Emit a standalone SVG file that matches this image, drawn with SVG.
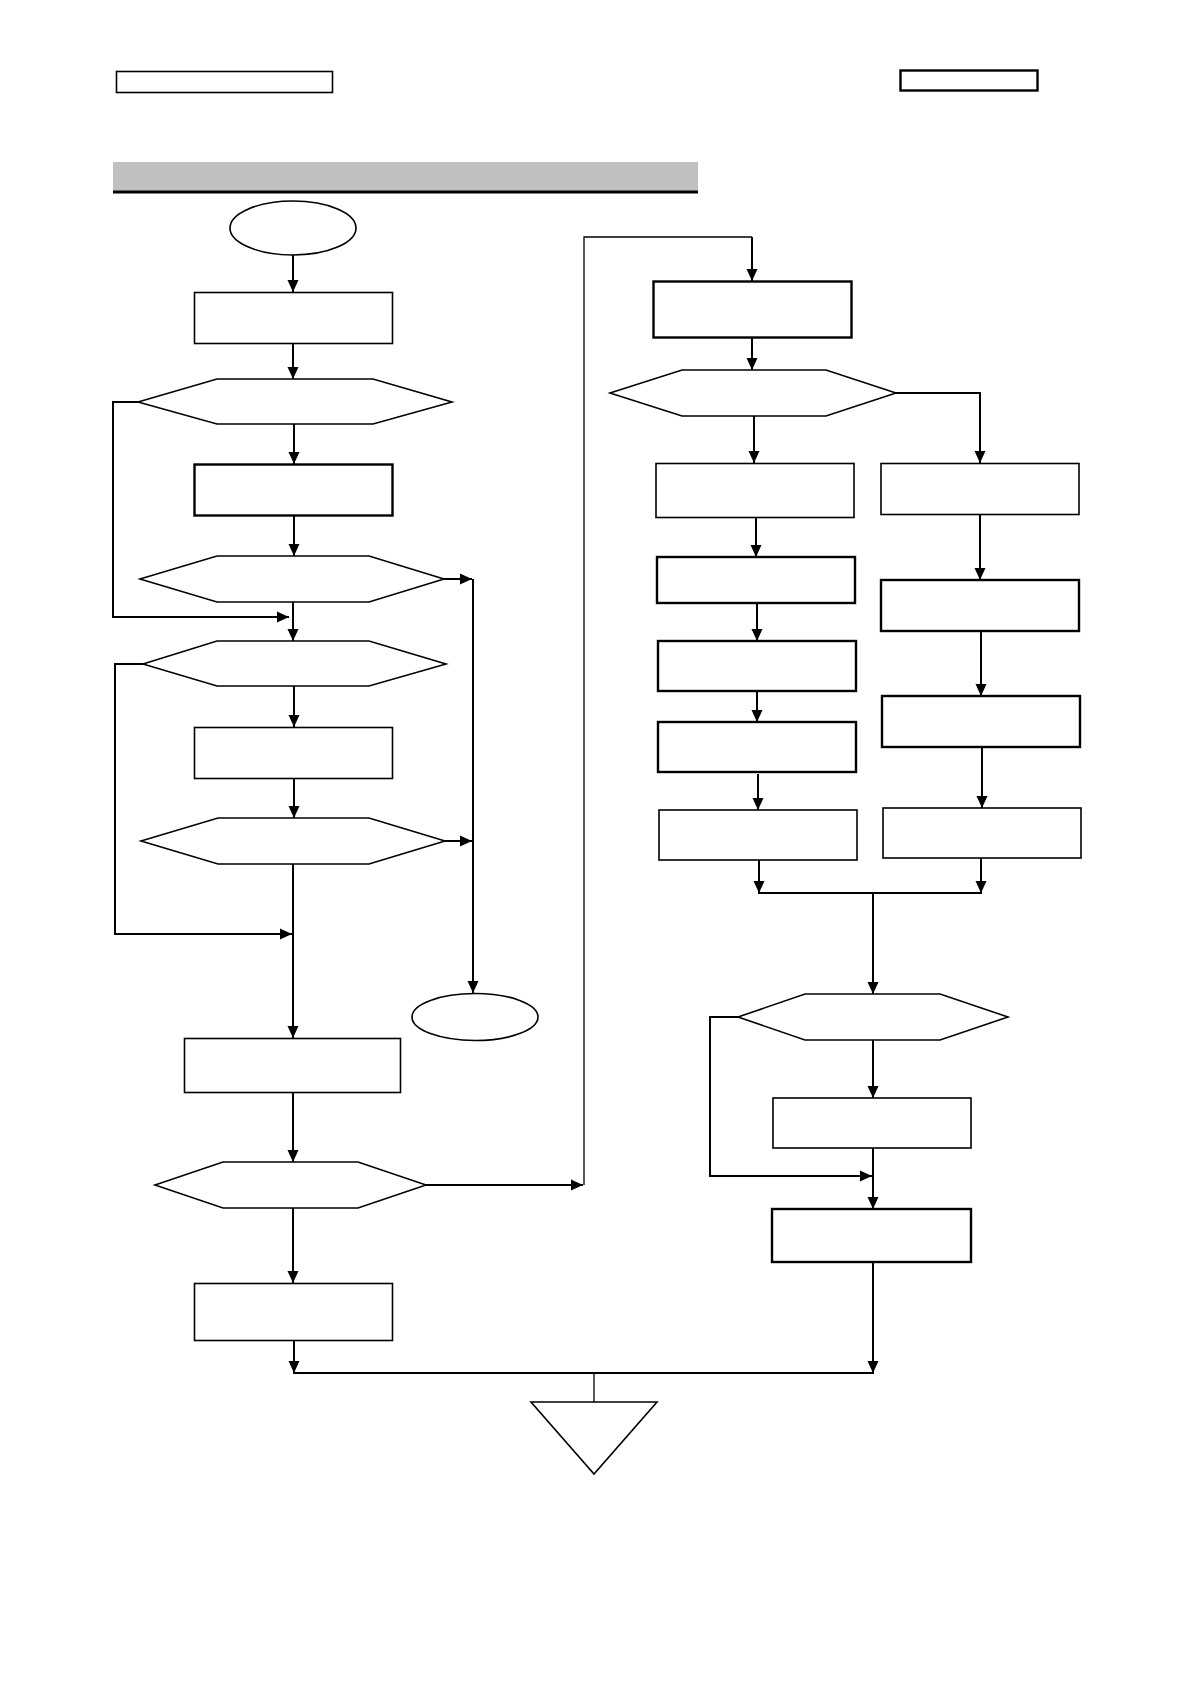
<svg xmlns="http://www.w3.org/2000/svg" width="1191" height="1684" viewBox="0 0 1191 1684">
<style>
.n{fill:#fff;stroke:#000;stroke-width:1.6}
.t{fill:#fff;stroke:#000;stroke-width:2.4}
.c{fill:none;stroke:#000;stroke-width:2}
.th{fill:none;stroke:#000;stroke-width:1.3}
</style>
<defs>
<marker id="a" markerUnits="userSpaceOnUse" markerWidth="13" markerHeight="13" viewBox="0 0 13 13" refX="12" refY="6.5" orient="auto">
<path d="M0,1 L12,6.5 L0,12 Z" fill="#000"/>
</marker>
</defs>
<rect width="1191" height="1684" fill="#fff"/>
<g id="header">
<rect x="116.5" y="71.5" width="216" height="21" class="n"/>
<rect x="900.5" y="70.5" width="137" height="20" class="t"/>
<rect x="113" y="162" width="585" height="29" fill="#c0c0c0"/>
<line x1="113" y1="192" x2="698" y2="192" stroke="#000" stroke-width="3"/>
</g>
<g id="connectors">
<line x1="293" y1="255" x2="293" y2="292" class="c" marker-end="url(#a)"/>
<line x1="293" y1="343" x2="293" y2="379" class="c" marker-end="url(#a)"/>
<line x1="294" y1="424" x2="294" y2="464" class="c" marker-end="url(#a)"/>
<line x1="294" y1="516" x2="294" y2="556" class="c" marker-end="url(#a)"/>
<polyline points="138,402 113,402 113,617 289,617" class="c" marker-end="url(#a)"/>
<line x1="293" y1="602" x2="293" y2="641" class="c" marker-end="url(#a)"/>
<line x1="444" y1="579" x2="472" y2="579" class="c" marker-end="url(#a)"/>
<line x1="473" y1="579" x2="473" y2="993" class="c" marker-end="url(#a)"/>
<line x1="294" y1="686" x2="294" y2="727" class="c" marker-end="url(#a)"/>
<polyline points="143,664 115,664 115,934 292,934" class="c" marker-end="url(#a)"/>
<line x1="294" y1="778" x2="294" y2="818" class="c" marker-end="url(#a)"/>
<line x1="445" y1="841" x2="472" y2="841" class="c" marker-end="url(#a)"/>
<line x1="293" y1="864" x2="293" y2="1038" class="c" marker-end="url(#a)"/>
<line x1="293" y1="1092" x2="293" y2="1162" class="c" marker-end="url(#a)"/>
<line x1="426" y1="1185" x2="583" y2="1185" class="c" marker-end="url(#a)"/>
<polyline points="584,1185 584,237 752,237" class="th"/>
<line x1="752" y1="237" x2="752" y2="281" class="c" marker-end="url(#a)"/>
<line x1="293" y1="1208" x2="293" y2="1283" class="c" marker-end="url(#a)"/>
<line x1="294" y1="1340" x2="294" y2="1373" class="c" marker-end="url(#a)"/>
<line x1="293" y1="1373" x2="874" y2="1373" class="c"/>
<line x1="873" y1="1262" x2="873" y2="1373" class="c" marker-end="url(#a)"/>
<line x1="594" y1="1373" x2="594" y2="1402" class="th"/>
<line x1="752" y1="338" x2="752" y2="370" class="c" marker-end="url(#a)"/>
<line x1="754" y1="416" x2="754" y2="463" class="c" marker-end="url(#a)"/>
<polyline points="896,393 980,393 980,463" class="c" marker-end="url(#a)"/>
<line x1="756" y1="517" x2="756" y2="557" class="c" marker-end="url(#a)"/>
<line x1="757" y1="603" x2="757" y2="641" class="c" marker-end="url(#a)"/>
<line x1="757" y1="691" x2="757" y2="722" class="c" marker-end="url(#a)"/>
<line x1="758" y1="774" x2="758" y2="810" class="c" marker-end="url(#a)"/>
<line x1="759" y1="860" x2="759" y2="893" class="c" marker-end="url(#a)"/>
<line x1="980" y1="514" x2="980" y2="580" class="c" marker-end="url(#a)"/>
<line x1="981" y1="631" x2="981" y2="696" class="c" marker-end="url(#a)"/>
<line x1="982" y1="747" x2="982" y2="808" class="c" marker-end="url(#a)"/>
<line x1="981" y1="858" x2="981" y2="893" class="c" marker-end="url(#a)"/>
<line x1="758" y1="893" x2="982" y2="893" class="c"/>
<line x1="873" y1="893" x2="873" y2="994" class="c" marker-end="url(#a)"/>
<polyline points="738,1017 710,1017 710,1176 872,1176" class="c" marker-end="url(#a)"/>
<line x1="873" y1="1040" x2="873" y2="1098" class="c" marker-end="url(#a)"/>
<line x1="873" y1="1148" x2="873" y2="1209" class="c" marker-end="url(#a)"/>
</g>
<g id="start"><ellipse cx="293" cy="228" rx="63" ry="27" class="n"/></g>
<g id="box1"><rect x="194.5" y="292.5" width="198" height="51" class="n"/></g>
<g id="hex1"><polygon points="138,402 217,379 373,379 452,402 373,424 217,424" class="n"/></g>
<g id="box2"><rect x="194.5" y="464.5" width="198" height="51" class="t"/></g>
<g id="hex2"><polygon points="140,579 217,556 369,556 444,579 369,602 217,602" class="n"/></g>
<g id="hex3"><polygon points="143,664 217,641 369,641 446,664 369,686 217,686" class="n"/></g>
<g id="box3"><rect x="194.5" y="727.5" width="198" height="51" class="n"/></g>
<g id="hex4"><polygon points="141,841 218,818 369,818 445,841 369,864 218,864" class="n"/></g>
<g id="end"><ellipse cx="475" cy="1017" rx="63" ry="23.5" class="n"/></g>
<g id="box4"><rect x="184.5" y="1038.5" width="216" height="54" class="n"/></g>
<g id="hex5"><polygon points="155,1185 223,1162 358,1162 426,1185 358,1208 223,1208" class="n"/></g>
<g id="box5"><rect x="194.5" y="1283.5" width="198" height="57" class="n"/></g>
<g id="r1"><rect x="653.5" y="281.5" width="198" height="56" class="t"/></g>
<g id="hexr1"><polygon points="610,393 682,370 826,370 896,393 826,416 682,416" class="n"/></g>
<g id="r2a"><rect x="656" y="463.5" width="198" height="54" class="n"/></g>
<g id="r2b"><rect x="881" y="463.5" width="198" height="51" class="n"/></g>
<g id="r3a"><rect x="657" y="557" width="198" height="46" class="t"/></g>
<g id="r3b"><rect x="881" y="580" width="198" height="51" class="t"/></g>
<g id="r4a"><rect x="658" y="641" width="198" height="50" class="t"/></g>
<g id="r5a"><rect x="658" y="722" width="198" height="50" class="t"/></g>
<g id="r6a"><rect x="659" y="810" width="198" height="50" class="n"/></g>
<g id="r4b"><rect x="882" y="696" width="198" height="51" class="t"/></g>
<g id="r5b"><rect x="883" y="808" width="198" height="50" class="n"/></g>
<g id="hexr2"><polygon points="738,1017 805,994 940,994 1008,1017 940,1040 805,1040" class="n"/></g>
<g id="r7"><rect x="773" y="1098" width="198" height="50" class="n"/></g>
<g id="r8"><rect x="772" y="1209" width="199" height="53" class="t"/></g>
<g id="merge"><polygon points="531,1402 657,1402 594,1474" class="n"/></g>
</svg>
